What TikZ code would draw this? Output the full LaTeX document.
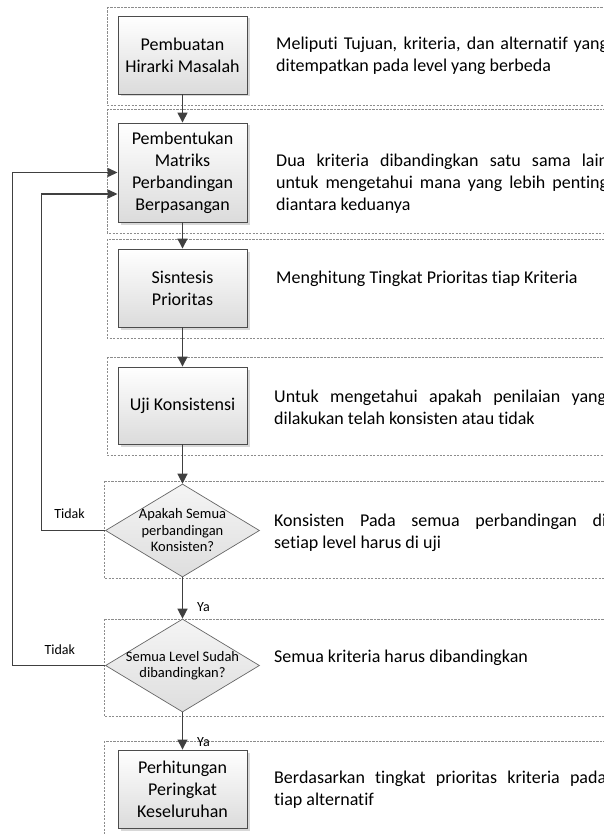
\documentclass[tikz,border=0pt]{standalone}
\usepackage{fontspec}
\setmainfont{Carlito}[Ligatures=NoCommon]
\usetikzlibrary{shapes.geometric,arrows.meta,shadows}
\newlength{\colw}
\setlength{\colw}{332pt}
\newcommand{\jline}[1]{\makebox[\colw][s]{#1}}
\begin{document}
\begin{tikzpicture}[x=1pt,y=-1pt,
  panel/.style={draw=black!45, dash pattern=on 2.2pt off 1.3pt, line width=0.6pt},
  procbox/.style={draw=black!70, line width=0.9pt, top color=white, bottom color=black!14,
    minimum width=129pt, inner sep=2pt, align=center, font=\fontsize{18}{22}\selectfont,
    drop shadow={shadow xshift=2.5pt, shadow yshift=-2.5pt, fill=black!30, opacity=0.5}},
  decision/.style={diamond, draw=black!60, line width=0.7pt, top color=black!4, bottom color=black!13,
    minimum width=154pt, minimum height=93pt, inner sep=0pt},
  dtext/.style={align=center, font=\fontsize{14.5}{16.5}\selectfont, inner sep=0pt},
  desc/.style={anchor=west, align=left, inner sep=0pt, font=\fontsize{18}{22}\selectfont},
  lbl/.style={font=\fontsize{14}{16}\selectfont, inner sep=0pt},
  flow/.style={draw=black!75, line width=1.4pt, -{Triangle[length=10pt,width=10pt]}},
  loopflow/.style={draw=black!75, line width=1.4pt, -{Triangle[length=10pt,width=9pt]}},
]
\useasboundingbox (0,0) rectangle (603,834);

% lanes
\draw[panel] (107,7) rectangle (640,105);
\draw[panel] (107,109) rectangle (640,233);
\draw[panel] (107,239) rectangle (640,338);
\draw[panel] (107,357) rectangle (640,455);
\draw[panel] (104,481) rectangle (640,578);
\draw[panel] (104,619) rectangle (640,716);
\draw[panel] (104,741) rectangle (640,860);

% process boxes
\node[procbox, minimum height=78pt] (b1) at (182.5,55) {Pembuatan\\Hirarki Masalah};
\node[procbox, minimum height=99pt] (b2) at (182.5,172.5) {Pembentukan\\Matriks\\Perbandingan\\Berpasangan};
\node[procbox, minimum height=78pt] (b3) at (182.5,288) {Sisntesis\\Prioritas};
\node[procbox, minimum height=77pt] (b4) at (182.5,405.5) {Uji Konsistensi};
\node[decision] (d1) at (182.5,530.5) {};
\node[dtext] (d1t) at (d1.center) {Apakah Semua\\perbandingan\\Konsisten?};
\node[decision] (d2) at (182.5,665.5) {};
\node[dtext] (d2t) at (d2.center) {Semua Level Sudah\\dibandingkan?};
\node[procbox, minimum height=78pt] (b7) at (182.5,789) {Perhitungan\\Peringkat\\Keseluruhan};

% descriptions
\node[desc] (t1) at (276,56) {\jline{Meliputi Tujuan, kriteria, dan alternatif yang}\\ditempatkan pada level yang berbeda};
\node[desc] (t2) at (276,183.5) {\jline{Dua kriteria dibandingkan satu sama lain}\\\jline{untuk mengetahui mana yang lebih penting}\\diantara keduanya};
\node[desc] (t3) at (276,279) {Menghitung Tingkat Prioritas tiap Kriteria};
\node[desc] (t4) at (274,407) {\jline{Untuk mengetahui apakah penilaian yang}\\dilakukan telah konsisten atau tidak};
\node[desc] (t5) at (274,533) {\jline{Konsisten Pada semua perbandingan di}\\setiap level harus di uji};
\node[desc] (t6) at (274,658) {Semua kriteria harus dibandingkan};
\node[desc] (t7) at (274,790) {\jline{Berdasarkan tingkat prioritas kriteria pada}\\tiap alternatif};

% main flow
\draw[flow] (b1) -- (b2);
\draw[flow] (b2) -- (b3);
\draw[flow] (b3) -- (b4);
\draw[flow] (b4) -- (d1);
\draw[flow] (d1) -- node[lbl, anchor=west, xshift=14pt, pos=0.71] {Ya} (d2);
\draw[flow] (d2) -- node[lbl, anchor=west, xshift=14pt, pos=0.79] {Ya} (b7);

% feedback loops
\coordinate (b2in) at ([yshift=-21.5pt]b2.west);
\draw[loopflow] (d1.west) -- node[lbl, pos=0.56, yshift=17pt] {Tidak} ++(-63.5,0) |- (b2in);
\draw[loopflow] (d2.west) -- node[lbl, pos=0.49, yshift=16pt] {Tidak} ++(-92.5,0) |- (b2.west);
\end{tikzpicture}
\end{document}
